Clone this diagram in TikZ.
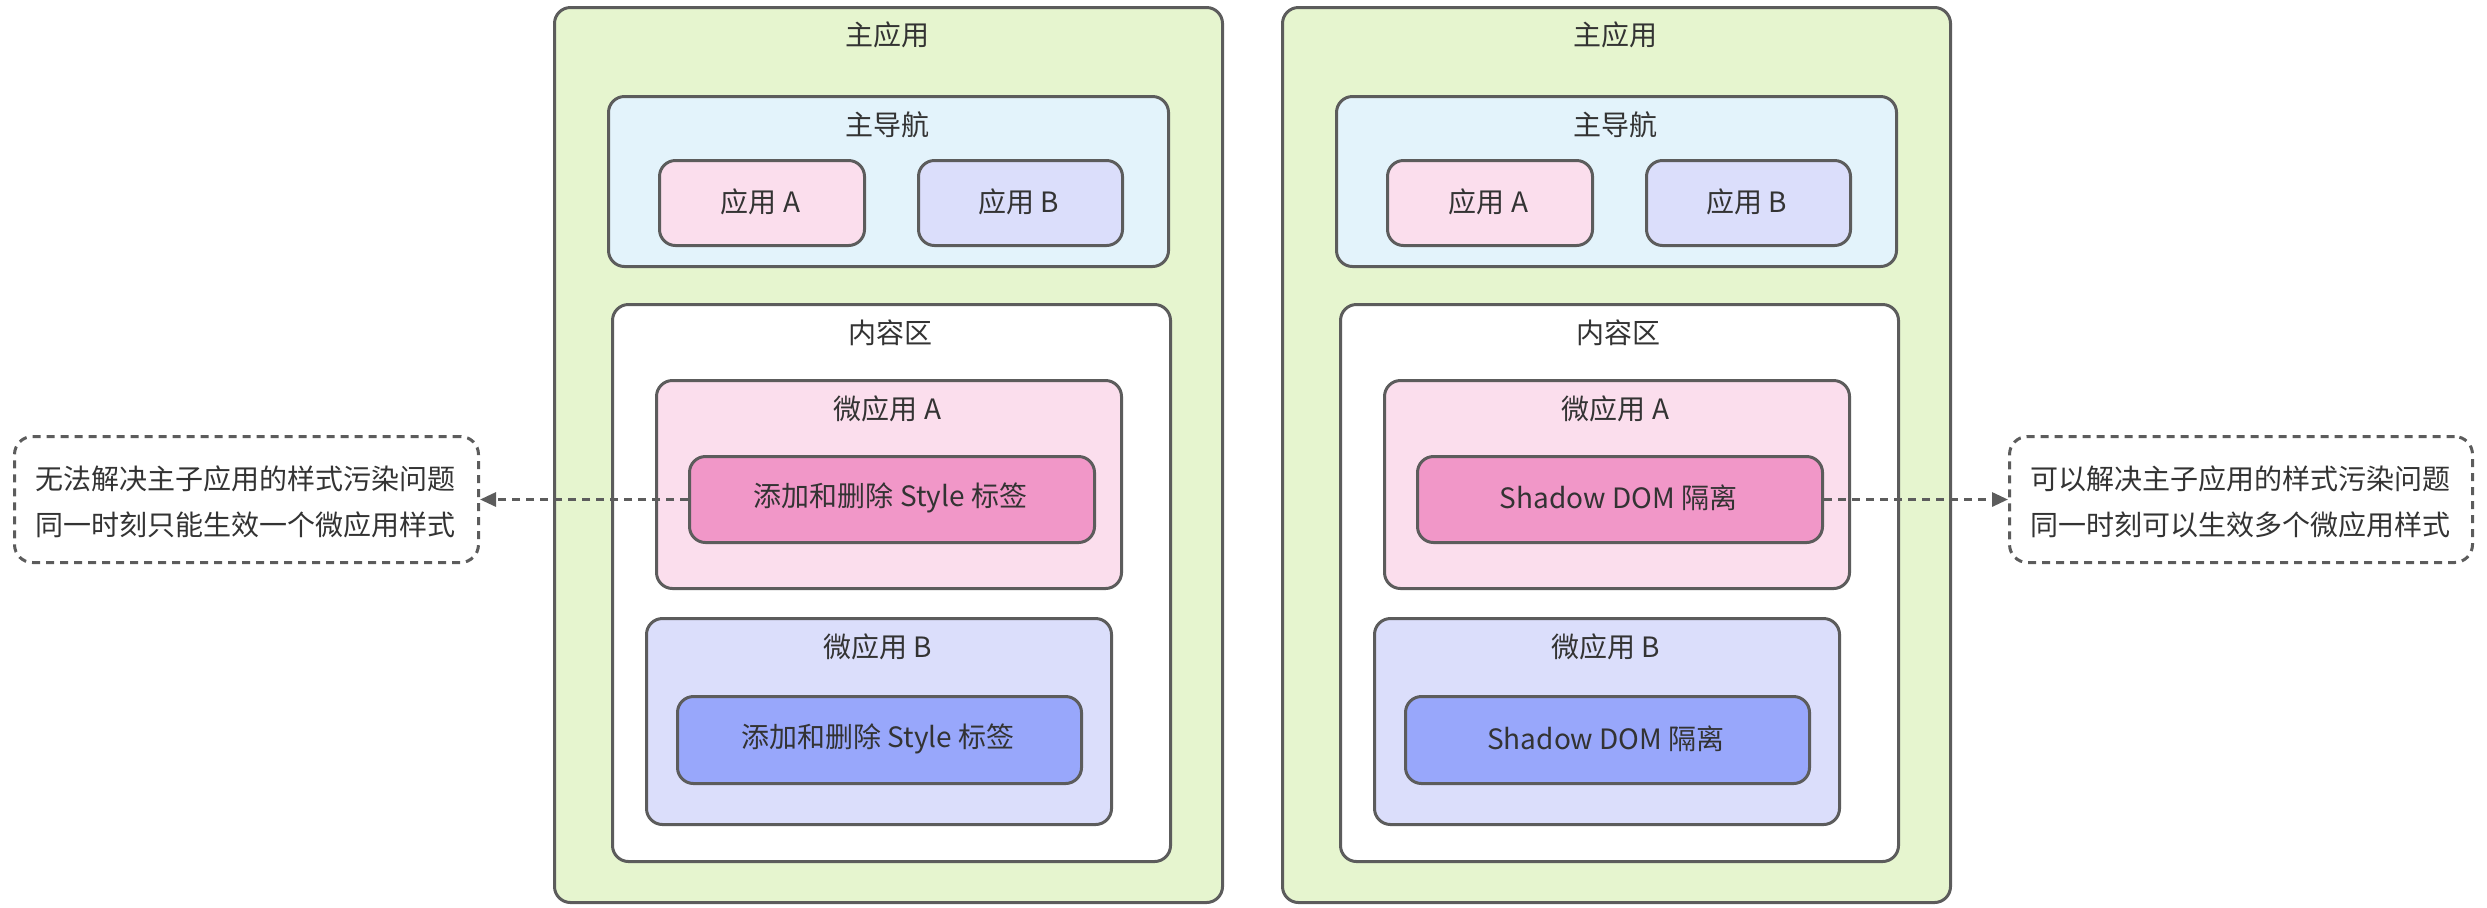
\documentclass[tikz,border=0pt]{standalone}
\usepackage{fontspec}
\newfontfamily\cjk{Noto Sans CJK SC}
\usetikzlibrary{arrows.meta}
\definecolor{strokec}{HTML}{5C5C5C}
\definecolor{textc}{HTML}{333333}
\definecolor{maing}{HTML}{E6F5CF}
\definecolor{navb}{HTML}{E3F3FB}
\definecolor{pinkl}{HTML}{FBDEED}
\definecolor{bluel}{HTML}{DBDEFB}
\definecolor{pinkd}{HTML}{F197C8}
\definecolor{blued}{HTML}{98A7FB}
\tikzset{
  rb/.style={draw=strokec, line width=1.5pt, rounded corners=8pt, fill=#1, inner sep=0pt},
  tx/.style={text=textc, font=\cjk\fontsize{14pt}{17pt}\selectfont, inner sep=0pt},
  note/.style={draw=strokec, line width=1.5pt, rounded corners=9pt, dash pattern=on 4pt off 3pt, fill=white, inner sep=0pt},
  conn/.style={draw=strokec, line width=1.5pt, dash pattern=on 4pt off 3pt, -{Triangle[length=8pt,width=7pt]}}
}
\newcommand\rbox[7]{%
  \node[rb=#2, anchor=north west, minimum width={(#5-#3)*0.5pt}, minimum height={(#6-#4)*0.5pt}] (#1) at (#3,#4) {};
  \node[tx] (#1t) at ({(#3+#5)/2},{(#4+#6)/2}) {#7};}
\newcommand\rcont[8]{%
  \node[rb=#2, anchor=north west, minimum width={(#5-#3)*0.5pt}, minimum height={(#6-#4)*0.5pt}] (#1) at (#3,#4) {};
  \node[tx] (#1t) at ({(#3+#5)/2},#7) {#8};}
\newcommand\panel[3]{%
  \begin{scope}[xshift={#2*0.5pt}]
  \rcont{#1main}{maing}{553}{6}{1221}{901}{35}{主应用}
  \rcont{#1nav}{navb}{607}{95}{1167}{265}{125}{主导航}
  \rbox{#1appA}{pinkl}{658}{159}{863}{244}{应用 A}
  \rbox{#1appB}{bluel}{917}{159}{1121}{244}{应用 B}
  \rcont{#1content}{white}{611}{303}{1169}{860}{333}{内容区}
  \rcont{#1microA}{pinkl}{655}{379}{1120}{587}{409}{微应用 A}
  \rbox{#1innerA}{pinkd}{688}{455}{1093}{541}{#3}
  \rcont{#1microB}{bluel}{645}{617}{1110}{823}{647}{微应用 B}
  \rbox{#1innerB}{blued}{676}{695}{1080}{782}{#3}
  \end{scope}}
\begin{document}
\begin{tikzpicture}[x=0.5pt,y=-0.5pt]
\useasboundingbox (0,0) rectangle (2487,907);
\panel{L}{0}{添加和删除 Style 标签}
\panel{R}{728}{Shadow DOM 隔离}
\node[note, anchor=north west, minimum width={464*0.5pt}, minimum height={126*0.5pt}] (noteL) at (13,435) {};
\node[tx] (noteLa) at (245,479) {无法解决主子应用的样式污染问题};
\node[tx] (noteLb) at (245,525) {同一时刻只能生效一个微应用样式};
\node[note, anchor=north west, minimum width={463*0.5pt}, minimum height={126*0.5pt}] (noteR) at (2008,435) {};
\node[tx] (noteRa) at (2240,479) {可以解决主子应用的样式污染问题};
\node[tx] (noteRb) at (2240,525) {同一时刻可以生效多个微应用样式};
\draw[conn] (LinnerA.west) -- (noteL.east);
\draw[conn] (RinnerA.east) -- (noteR.west);
\end{tikzpicture}
\end{document}
